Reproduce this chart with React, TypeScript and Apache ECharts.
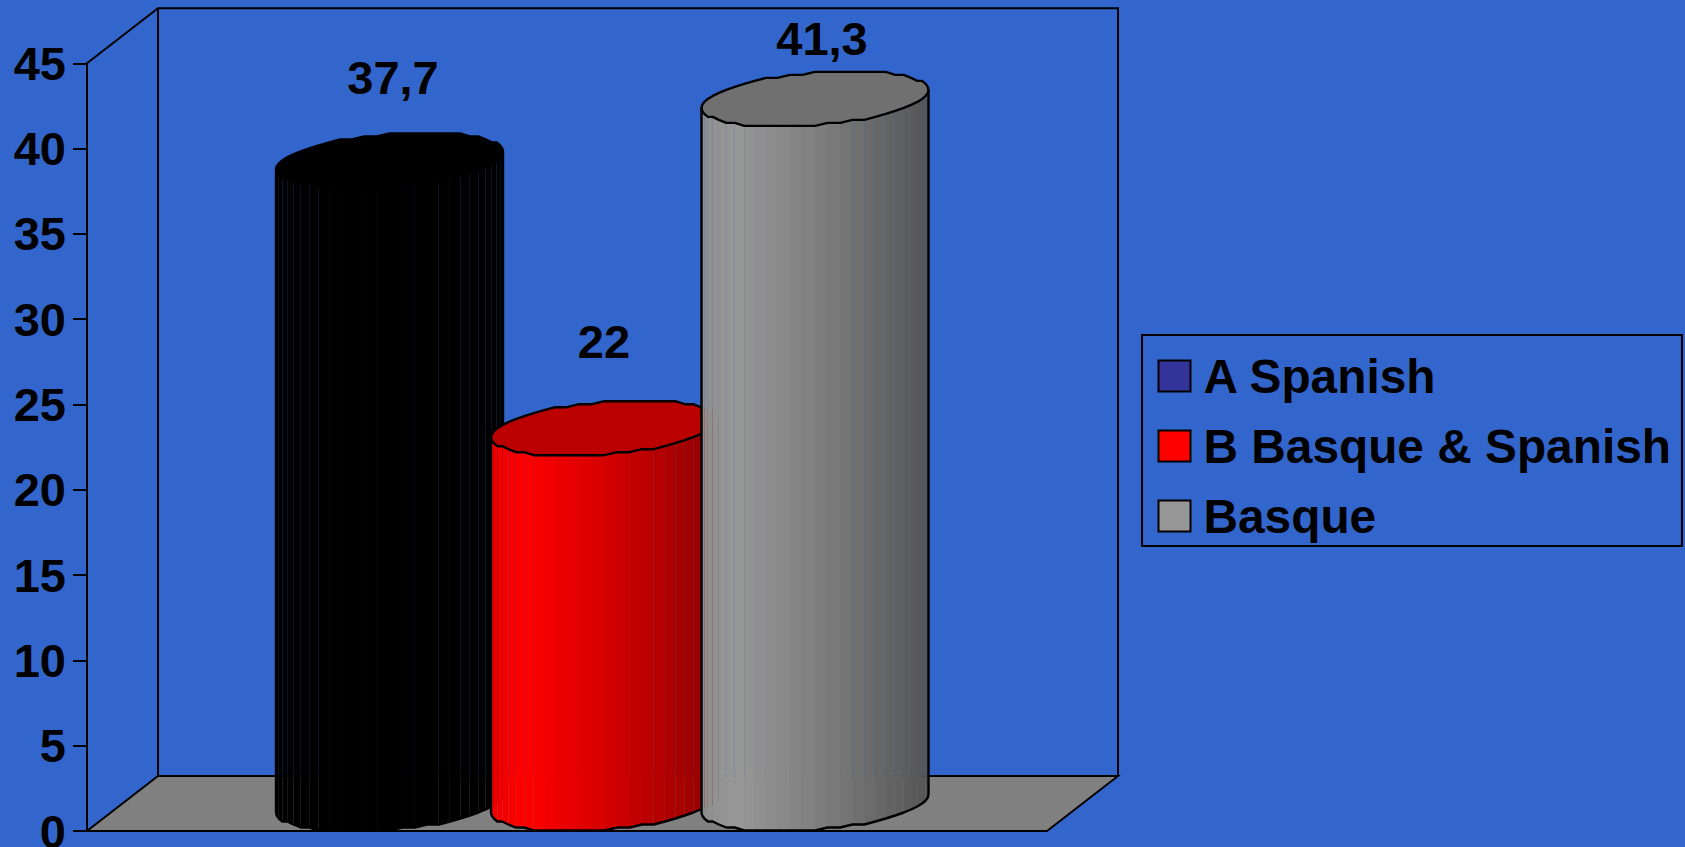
import React, { useEffect, useRef } from "react";
import * as echarts from "echarts";

// Schooling model shares, one upright cylinder per model.
const categories = ["Model"];
const seriesNames = ["A Spanish", "B Basque & Spanish", "Basque"];
const seriesValues = [37.7, 22, 41.3];
const valueTicks = { min: 0, max: 45, step: 5 };

const legendColors = ["#333399", "#ff0000", "#969696"];
const wallColors = ["#000000", "#ff0000", "#989898"];
const capColors = ["#000000", "#bb0000", "#707070"];

const FONT = '"Liberation Sans", Arial, sans-serif';
const BG = "#3366cc";
const FLOOR = "#808080";

// Oblique projection of the floor depth.
const DEPTH_X = 71;
const DEPTH_Y = 55;
// Cylinder footprint, and the horizontal slot of each cylinder from the band centre.
const HALF_WIDTH = 113.5;
const SLOT_OFFSET = [-213, 2, 212.5];
const LABEL_SHIFT = [
  [39, 110],
  [35, 114],
  [42.5, 88],
];
const FACETS = 28;
// Rim heights snap to this step, which gives the cap its chiselled outline.
const RIM_STEP = 3;

const SHEAR_X = DEPTH_X / 2;
const SHEAR_Y = DEPTH_Y / 2;
const RADIUS_X = Math.sqrt(HALF_WIDTH * HALF_WIDTH - SHEAR_X * SHEAR_X);
const START = Math.PI + Math.atan(SHEAR_X / RADIUS_X);

const rim = (cx: number, cy: number, t: number): [number, number] => [
  cx + RADIUS_X * Math.cos(t) + SHEAR_X * Math.sin(t),
  cy + Math.round((-SHEAR_Y * Math.sin(t)) / RIM_STEP) * RIM_STEP,
];

// Light falls from the left: a bright band near the left edge, darkening to the right.
const SHADE = [
  [0, 0.93],
  [0.15, 1],
  [0.5, 0.84],
  [1, 0.56],
];
const shadeAt = (f: number) => {
  for (let i = 1; i < SHADE.length; i++) {
    if (f <= SHADE[i][0]) {
      const [a, va] = SHADE[i - 1];
      const [b, vb] = SHADE[i];
      return va + ((vb - va) * (f - a)) / (b - a);
    }
  }
  return SHADE[SHADE.length - 1][1];
};
const shaded = (hex: string, k: number) => {
  const n = parseInt(hex.slice(1), 16);
  const ch = (v: number) => Math.round(v * k);
  return `rgb(${ch((n >> 16) & 255)},${ch((n >> 8) & 255)},${ch(n & 255)})`;
};

const frameItem = (params: any) => {
  const { x, y, width, height } = params.coordSys;
  const bottom = y + height;
  const line = { stroke: "#000", lineWidth: 2, fill: "none" };
  return {
    type: "group",
    children: [
      {
        type: "polygon",
        shape: {
          points: [
            [x, bottom],
            [x + width, bottom],
            [x + width + DEPTH_X, bottom - DEPTH_Y],
            [x + DEPTH_X, bottom - DEPTH_Y],
          ],
        },
        style: { fill: FLOOR, stroke: "#000", lineWidth: 2 },
      },
      {
        type: "polyline",
        shape: {
          points: [
            [x, y],
            [x + DEPTH_X, y - DEPTH_Y],
            [x + width + DEPTH_X, y - DEPTH_Y],
            [x + width + DEPTH_X, bottom - DEPTH_Y],
          ],
        },
        style: line,
      },
      {
        type: "line",
        shape: { x1: x + DEPTH_X, y1: y - DEPTH_Y, x2: x + DEPTH_X, y2: bottom - DEPTH_Y },
        style: line,
      },
    ],
  };
};

const cylinderItem = (index: number) => (params: any, api: any) => {
  const value = api.value(1);
  const [bandX, topY] = api.coord([api.value(0), value]);
  const [, zeroY] = api.coord([api.value(0), 0]);
  const cx = bandX + SLOT_OFFSET[index] + SHEAR_X;
  const capY = topY - SHEAR_Y;
  const baseY = zeroY - SHEAR_Y;

  const children: any[] = [];
  const frontTop: number[][] = [];
  const frontBase: number[][] = [];
  for (let i = 0; i <= FACETS; i++) {
    const t = START + (Math.PI * i) / FACETS;
    frontTop.push(rim(cx, capY, t));
    frontBase.push(rim(cx, baseY, t));
  }
  for (let i = 0; i < FACETS; i++) {
    const mid = (frontTop[i][0] + frontTop[i + 1][0]) / 2;
    const f = (mid - (cx - HALF_WIDTH)) / (2 * HALF_WIDTH);
    const fill = shaded(wallColors[index], shadeAt(f));
    // Seams stay hairline at the flanks; the broad middle facets blend together.
    const blended = f > 0.22 && f < 0.62;
    children.push({
      type: "polygon",
      shape: { points: [frontTop[i], frontTop[i + 1], frontBase[i + 1], frontBase[i]] },
      style: blended ? { fill, stroke: fill, lineWidth: 0.8 } : { fill },
    });
  }
  const cap: number[][] = [];
  for (let i = 0; i < FACETS * 2; i++) {
    cap.push(rim(cx, capY, START + (Math.PI * i) / FACETS));
  }
  children.push({
    type: "polygon",
    shape: { points: cap },
    style: { fill: capColors[index], stroke: "#000", lineWidth: 2.4, lineJoin: "round" },
  });
  children.push({
    type: "polyline",
    shape: { points: [frontTop[0], ...frontBase, frontTop[FACETS]] },
    style: { fill: "none", stroke: "#000", lineWidth: 2.4, lineJoin: "round" },
  });
  children.push({
    type: "text",
    style: {
      text: String(value).replace(".", ","),
      x: bandX + SLOT_OFFSET[index] + LABEL_SHIFT[index][0],
      y: topY - LABEL_SHIFT[index][1],
      align: "center",
      verticalAlign: "middle",
      fontFamily: FONT,
      fontWeight: "bold",
      fontSize: 47,
      fill: "#000",
    },
  });
  return { type: "group", children };
};

export default function App() {
  const ref = useRef<HTMLDivElement>(null);

  useEffect(() => {
    document.body.style.margin = "0";
    const chart = echarts.init(ref.current!, null, { renderer: "svg" });
    chart.setOption({
      animation: false,
      backgroundColor: BG,
      grid: { left: 87, right: 638, top: 63.3, bottom: 16, outerBoundsMode: "none" },
      legend: {
        orient: "vertical",
        left: 1142,
        top: 335,
        padding: [17, 11, 6, 15.5],
        itemWidth: 32,
        itemHeight: 31,
        itemGap: 22,
        backgroundColor: BG,
        borderColor: "#000",
        borderWidth: 2,
        selectedMode: false,
        textStyle: { fontFamily: FONT, fontWeight: "bold", fontSize: 47.8, lineHeight: 47, color: "#000", padding: [0, 0, 0, 8] },
        data: seriesNames.map((name, i) => ({
          name,
          icon: "rect",
          itemStyle: { color: legendColors[i], borderColor: "#000", borderWidth: 2 },
        })),
      },
      xAxis: {
        type: "category",
        data: categories,
        axisLine: { lineStyle: { color: "#000", width: 2 } },
        axisTick: { length: 14, lineStyle: { color: "#000", width: 2 } },
        axisLabel: { show: false },
      },
      yAxis: {
        type: "value",
        min: valueTicks.min,
        max: valueTicks.max,
        interval: valueTicks.step,
        splitLine: { show: false },
        axisLine: { show: true, lineStyle: { color: "#000", width: 2 } },
        axisTick: { show: true, length: 14, lineStyle: { color: "#000", width: 2 } },
        axisLabel: { margin: 21, fontFamily: FONT, fontWeight: "bold", fontSize: 47, color: "#000" },
      },
      series: [
        {
          type: "custom",
          name: "frame",
          silent: true,
          z: 1,
          renderItem: frameItem,
          data: [[0, 0]],
        },
        ...seriesNames.map((name, i) => ({
          type: "custom",
          name,
          z: 2 + i,
          renderItem: cylinderItem(i),
          encode: { x: 0, y: 1 },
          data: [[0, seriesValues[i]]],
        })),
      ],
    });
    return () => chart.dispose();
  }, []);

  return <div ref={ref} style={{ position: "fixed", left: 0, top: 0, width: 1685, height: 847 }} />;
}
